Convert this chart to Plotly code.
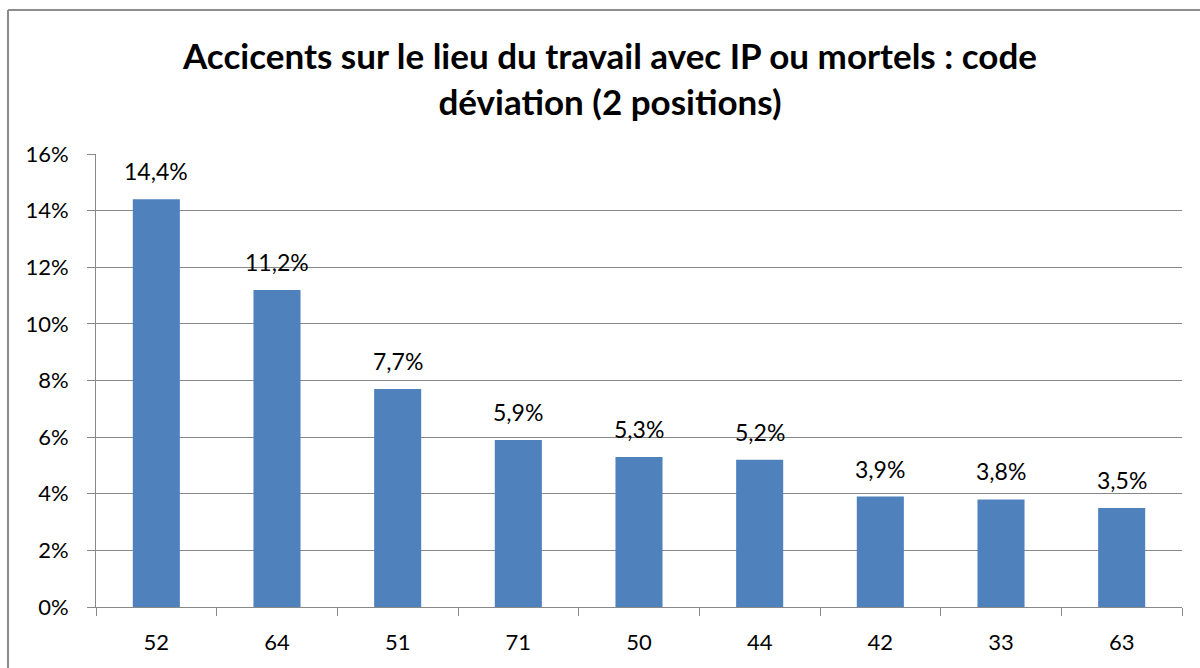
import plotly.graph_objects as go

categories = ["52", "64", "51", "71", "50", "44", "42", "33", "63"]
values = [14.4, 11.2, 7.7, 5.9, 5.3, 5.2, 3.9, 3.8, 3.5]
labels = ["14,4%", "11,2%", "7,7%", "5,9%", "5,3%", "5,2%", "3,9%", "3,8%", "3,5%"]
y_ticks = [0, 2, 4, 6, 8, 10, 12, 14, 16]
y_ticktext = ["0%", "2%", "4%", "6%", "8%", "10%", "12%", "14%", "16%"]

W, H = 1200, 668
L, R, T, B = 96, 18, 154, 61
pw, ph = W - L - R, H - T - B

fig = go.Figure(go.Bar(
    x=categories, y=values,
    marker=dict(color="#4F81BD", line=dict(width=0)),
    width=0.39,
))

for i, (v, t) in enumerate(zip(values, labels)):
    fig.add_annotation(x=i, y=v, text=t, showarrow=False, yanchor="bottom",
                       xanchor="center", yshift=12,
                       font=dict(family="Lato", size=23, color="#000000"))

grid = "#888888"
fig.update_layout(
    width=W, height=H,
    margin=dict(l=L, r=R, t=T, b=B, autoexpand=False),
    paper_bgcolor="white", plot_bgcolor="white",
    showlegend=False,
    font=dict(family="Lato", color="#000000"),
    title=dict(
        text="<b>Accicents sur le lieu du travail avec IP ou mortels : code<br>déviation (2 positions)</b>",
        font=dict(family="Lato", size=35, color="#000000"),
        x=610 / W, xanchor="center", y=1 - 69 / H, yanchor="middle",
        xref="container", yref="container",
    ),
    xaxis=dict(
        type="category", categoryorder="array", categoryarray=categories,
        range=[-0.5, len(categories) - 0.5],
        tickson="boundaries", ticks="outside", ticklen=8, tickangle=0,
        tickcolor=grid, showline=True, linecolor=grid, linewidth=1,
        showgrid=False, tickfont=dict(family="Lato", size=22), ticklabelstandoff=16,
    ),
    yaxis=dict(
        range=[0, 16], tickvals=y_ticks, ticktext=y_ticktext,
        ticks="outside", ticklen=8, tickcolor=grid,
        showline=True, linecolor=grid, linewidth=1,
        showgrid=True, gridcolor=grid, gridwidth=1,
        tickfont=dict(family="Lato", size=22), ticklabelstandoff=14, zeroline=False,
    ),
    bargap=0.61,
)

# outer frame (left and top edges visible)
fx = (8 - L) / pw
fy = (H - B - 10) / ph
fig.add_shape(type="line", xref="paper", yref="paper", x0=fx, x1=fx, y0=fy, y1=-1,
              line=dict(color="#8c8c8c", width=2))
fig.add_shape(type="line", xref="paper", yref="paper", x0=fx, x1=2, y0=fy, y1=fy,
              line=dict(color="#8c8c8c", width=2))

fig.write_html("out.html", config={"displayModeBar": False},
               post_script="document.body.style.margin='0';document.body.style.overflow='hidden';")
